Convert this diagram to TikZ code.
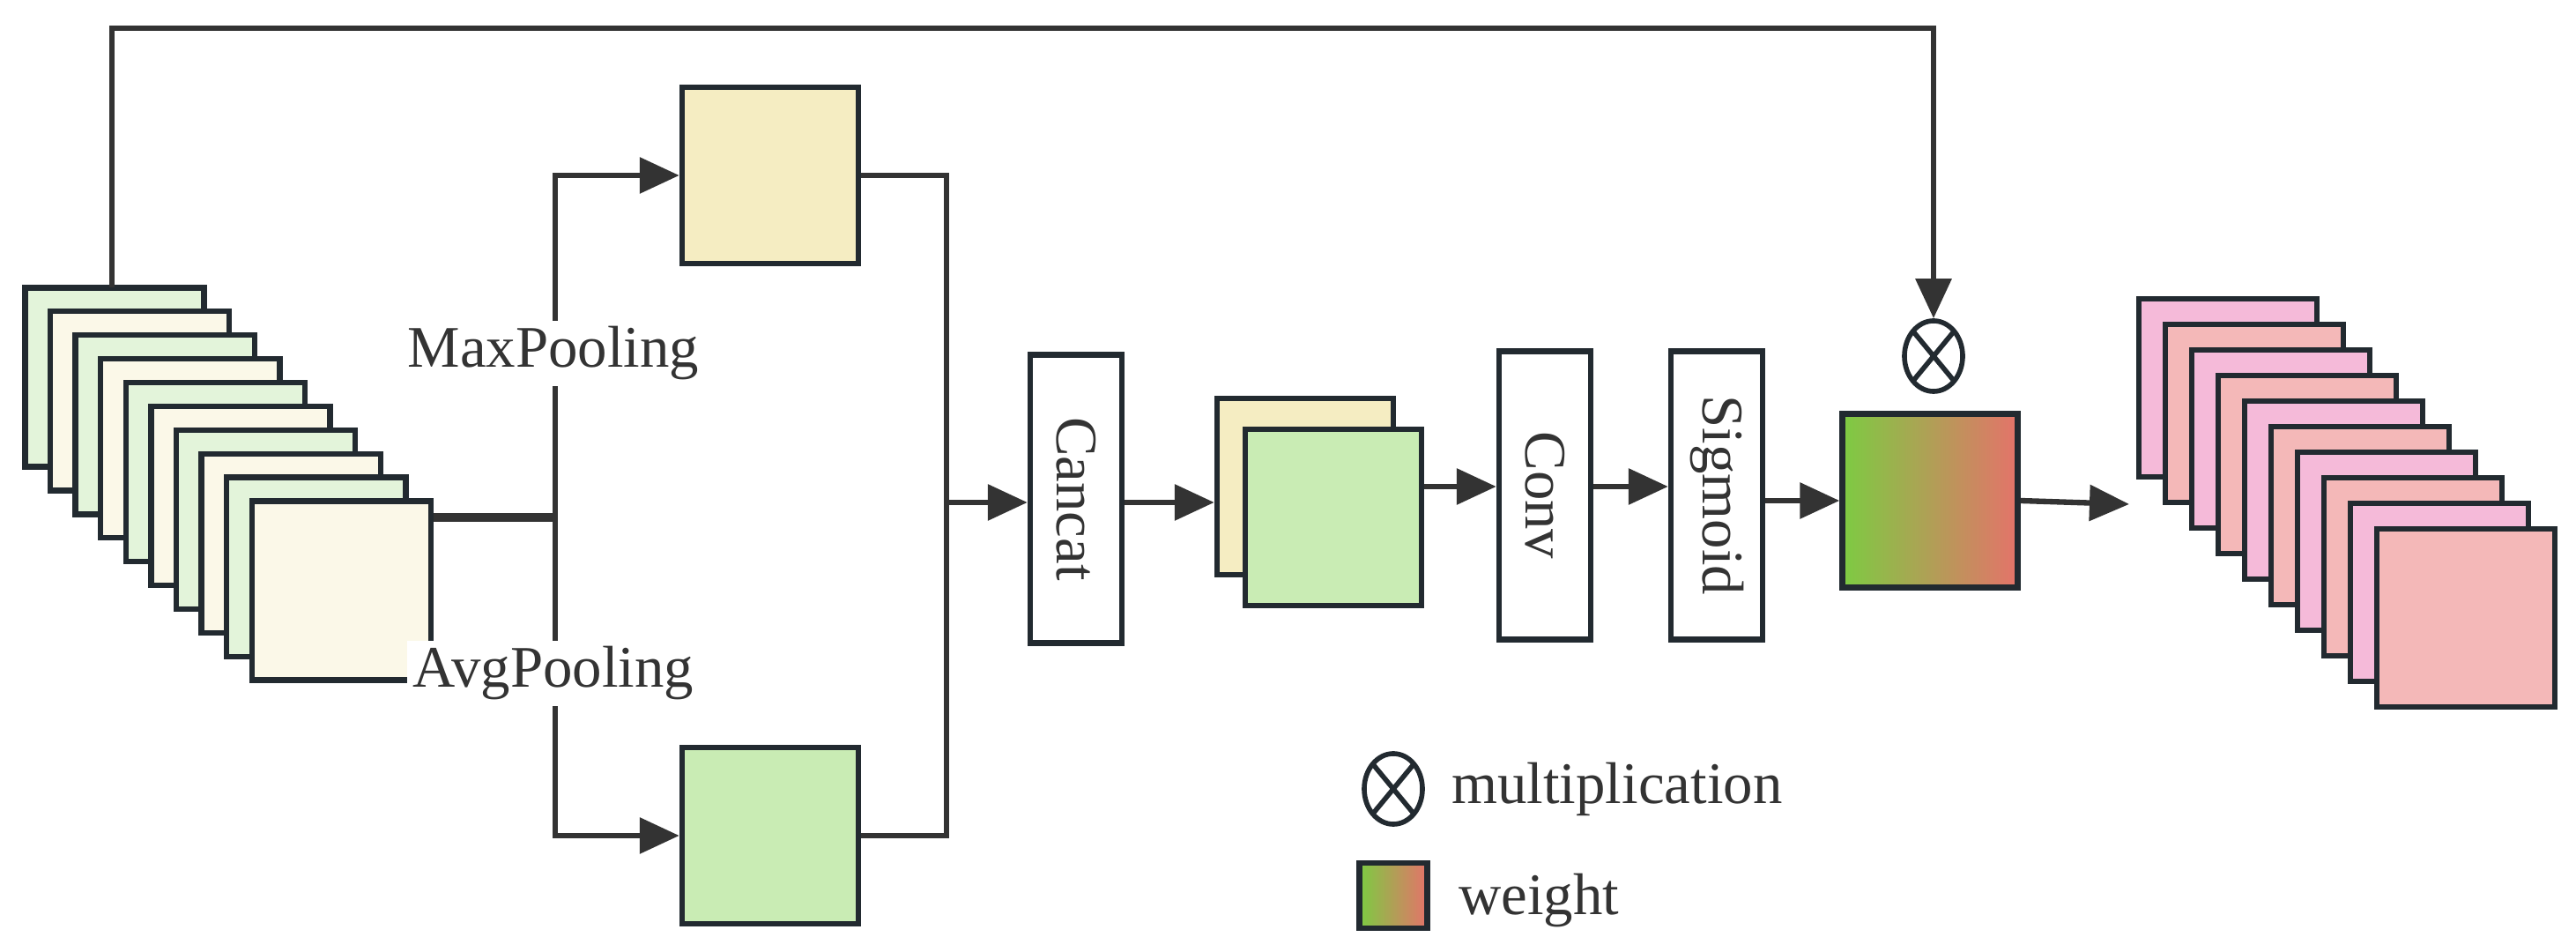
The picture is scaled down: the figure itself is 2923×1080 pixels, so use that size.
\documentclass[tikz,border=0pt]{standalone}
\usepackage{fontspec}
\setmainfont{Liberation Serif}
\usetikzlibrary{arrows.meta,shapes.geometric}
\definecolor{ln}{HTML}{333333}
\definecolor{bd}{HTML}{222A30}
\definecolor{lg}{HTML}{E3F4DA}
\definecolor{cr}{HTML}{FBF8E8}
\definecolor{yl}{HTML}{F5EDC2}
\definecolor{gr}{HTML}{C9ECB4}
\definecolor{pk}{HTML}{F5BAD9}
\definecolor{sm}{HTML}{F4B8B8}
\definecolor{wg}{HTML}{7DCB42}
\definecolor{wr}{HTML}{E4736A}
\newcommand\myfont{\fontsize{19}{22}\selectfont}
\begin{document}
\begin{tikzpicture}[x=0.01cm,y=-0.01cm,
  fm/.style={draw=bd,line width=1.8pt,minimum width=2.0cm,minimum height=2.0cm,inner sep=0pt},
  op/.style={draw=bd,line width=1.8pt,fill=white,minimum width=1.04cm,minimum height=3.27cm,inner sep=0pt},
  lbl/.style={font=\myfont,text=ln},
  rl/.style={lbl,rotate=-90},
  ar/.style={ln,line width=1.8pt,-{Triangle[length=0.45cm,width=0.4cm]}},
  cn/.style={ln,line width=1.8pt},
  mul/.style={draw=bd,line width=1.6pt,ellipse,minimum width=0.66cm,minimum height=0.8cm,inner sep=0pt,path picture={
    \draw[bd,line width=1.6pt] (path picture bounding box.south west)--(path picture bounding box.north east)
    (path picture bounding box.north west)--(path picture bounding box.south east);}},
  wt/.style={draw=bd,line width=1.8pt,left color=wg,right color=wr,inner sep=0pt}]
\useasboundingbox (0,0) rectangle (2923,1080);
% left stack
\foreach \i in {0,...,9}{
  \ifodd\i \def\fc{cr}\else\def\fc{lg}\fi
  \node[fm,fill=\fc,minimum width=2.03cm,minimum height=2.03cm] (L\i) at ({130+28.6*\i},{428+26.9*\i}) {};
}
% right stack
\foreach \i in {0,...,9}{
  \ifodd\i \def\fc{sm}\else\def\fc{pk}\fi
  \node[fm,fill=\fc,minimum width=2.02cm,minimum height=2.02cm] (R\i) at ({2528+30*\i},{440+29*\i}) {};
}
\node[fm,fill=yl] (mx) at (874,199) {};
\node[fm,fill=gr] (av) at (874,948) {};
\node[op] (cat) at (1221,566) {};
\node[rl] at (cat) {Cancat};
\node[fm,fill=yl] (f1) at (1481,552) {};
\node[fm,fill=gr] (f2) at (1513,587) {};
\node[op] (conv) at (1753,562) {};
\node[rl] at (conv) {Conv};
\node[op] (sig) at (1948,562) {};
\node[rl] at (sig) {Sigmoid};
\node[wt,minimum width=1.99cm,minimum height=1.97cm] (w) at (2190,568) {};
\node[mul] (m) at (2194,404) {};
% connectors
\coordinate (j) at (630,587);
\coordinate (k) at (1074,570);
\coordinate (t0) at (127,326);
\coordinate (t1) at (127,32);
\coordinate (t2) at (2194,32);
\coordinate (o) at (2416,572);
\draw[cn,line width=2.6pt] (L9.east |- j) -- (j);
\draw[ar] (j) |- (mx.west);
\draw[ar] (j) |- (av.west);
\draw[cn] (mx.east) -| (k);
\draw[cn] (av.east) -| (k);
\draw[ar] (k) -- (cat.west |- k);
\draw[ar] (cat.east |- k) -- (f1.west |- k);
\draw[ar] (f2.east |- f1.center) -- (conv.west |- f1.center);
\draw[ar] (conv.east |- f1.center) -- (sig.west |- f1.center);
\draw[ar] (sig.east |- w.center) -- (w.west);
\draw[ar] (w.east) -- (o);
\draw[ar] (t0) -- (t1) -- (t2) -- (m.north);
\node[lbl,fill=white,inner sep=2pt] (tmax) at (628,401) {MaxPooling};
\node[lbl,fill=white,inner sep=2pt] (tavg) at (628,764) {AvgPooling};
% legend
\node[mul] (lm) at (1581,895) {};
\node[lbl,anchor=west] (tm) at (1635,895) {multiplication};
\node[wt,minimum width=0.77cm,minimum height=0.74cm] (lw) at (1581,1016) {};
\node[lbl,anchor=west] (tw) at (1643,1022) {weight};
\end{tikzpicture}
\end{document}
